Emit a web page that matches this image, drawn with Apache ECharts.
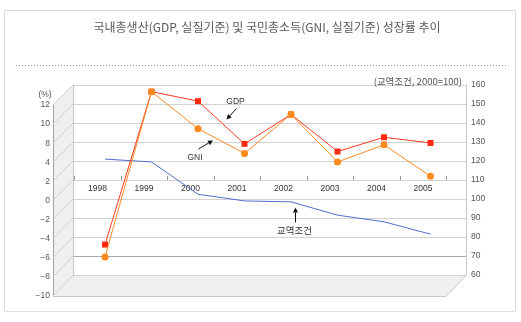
<!DOCTYPE html>
<html>
<head>
<meta charset="utf-8">
<script src="https://cdn.jsdelivr.net/npm/echarts@6/dist/echarts.min.js"></script>
<style>
html,body{margin:0;padding:0;background:#fff;}
#c{width:521px;height:322px;}
</style>
</head>
<body>
<div id="c"></div>
<script>
// ---- data ----
const years = ['1998','1999','2000','2001','2002','2003','2004','2005'];
const gdpGrowth = [-6.8, 9.3, 8.3, 3.8, 6.9, 3.0, 4.5, 3.9];
const gniGrowth = [-8.1, 9.3, 5.4, 2.8, 6.9, 1.9, 3.7, 0.4];
const termsOfTrade = [121, 119.5, 102.5, 99, 98.5, 91.5, 88, 81.5];
const leftTickLabels = ['−10','−8','−6','−4','−2','0','2','4','8','10','12'];
const rightMin = 60, rightMax = 160, rightStep = 10;
const titleText = '국내총생산(GDP, 실질기준) 및 국민총소득(GNI, 실질기준) 성장률 추이';
const subTitleText = '(교역조건, 2000=100)';

// ---- layout (pseudo-3D box) ----
const back = {x0: 73, y0: 85, x1: 466, y1: 275};
const depth = {dx: -20, dy: 21};
const numFont = '"Liberation Sans", Arial, sans-serif';
const krFont = '"Noto Sans CJK KR", sans-serif';

const chart = echarts.init(document.getElementById('c'), null, {renderer: 'canvas'});

const graphics = [];
// outer frame
graphics.push({type: 'rect', shape: {x: 4.5, y: 10.5, width: 511, height: 301}, style: {fill: 'none', stroke: '#dcdcdc', lineWidth: 1}, z: 0});
// dotted separator
graphics.push({type: 'line', shape: {x1: 16, y1: 65.5, x2: 506, y2: 65.5}, style: {stroke: '#9a9a9a', lineWidth: 1, lineDash: [1, 2]}, z: 0});
// title
graphics.push({type: 'text', x: 267, y: 27, style: {text: titleText, fill: '#5a5a5a', font: '12px ' + krFont, textAlign: 'center', textVerticalAlign: 'middle'}, z: 10});
graphics.push({type: 'text', x: 462, y: 81, style: {text: subTitleText, fill: '#555', font: '9.5px ' + krFont, textAlign: 'right', textVerticalAlign: 'middle'}, z: 10});
graphics.push({type: 'text', x: 45, y: 95, style: {text: '(%)', fill: '#555', font: '8.5px ' + numFont, textAlign: 'center', textVerticalAlign: 'middle'}, z: 10});

// left wall
const fx = back.x0 + depth.dx;
graphics.push({type: 'polygon', shape: {points: [[fx, back.y0 + depth.dy - 1], [back.x0, back.y0], [back.x0, back.y1], [fx, back.y1 + depth.dy]]}, style: {fill: '#efefef', stroke: 'none'}, z: 0});
const nLines = leftTickLabels.length;
for (let i = 0; i < nLines; i++) {
  const by = back.y0 + (back.y1 - back.y0) * i / (nLines - 1);
  const fy = (back.y0 + depth.dy - 1) + ((back.y1 + depth.dy) - (back.y0 + depth.dy - 1)) * i / (nLines - 1);
  graphics.push({type: 'line', shape: {x1: fx, y1: fy, x2: back.x0, y2: by}, style: {stroke: '#d0d0d0', lineWidth: 1}, z: 1});
}
// floor
graphics.push({type: 'polygon', shape: {points: [[fx, back.y1 + depth.dy], [back.x0, back.y1], [back.x1, back.y1], [back.x1 + depth.dx, back.y1 + depth.dy]]}, style: {fill: '#efefef', stroke: 'none'}, z: 0});
graphics.push({type: 'polyline', shape: {points: [[fx, back.y1 + depth.dy + 0.5], [back.x1 + depth.dx, back.y1 + depth.dy + 0.5], [back.x1 + 0.5, back.y1]]}, style: {stroke: '#c8c8c8', lineWidth: 1, fill: 'none'}, z: 1});

// annotations
function arrow(x0, y0, x1, y1) {
  const ang = Math.atan2(y1 - y0, x1 - x0);
  const L = 5, W = 2.5;
  const bx = x1 - L * Math.cos(ang), by = y1 - L * Math.sin(ang);
  const px = -Math.sin(ang) * W, py = Math.cos(ang) * W;
  graphics.push({type: 'line', shape: {x1: x0, y1: y0, x2: bx, y2: by}, style: {stroke: '#111', lineWidth: 1}, z: 20});
  graphics.push({type: 'polygon', shape: {points: [[x1, y1], [bx + px, by + py], [bx - px, by - py]]}, style: {fill: '#111'}, z: 20});
}
graphics.push({type: 'text', x: 235.5, y: 101.5, style: {text: 'GDP', fill: '#333', font: '8.5px ' + numFont, textAlign: 'center', textVerticalAlign: 'middle'}, z: 20});
arrow(236.5, 108.5, 226.5, 119.5);
graphics.push({type: 'text', x: 195, y: 157.5, style: {text: 'GNI', fill: '#333', font: '8.5px ' + numFont, textAlign: 'center', textVerticalAlign: 'middle'}, z: 20});
arrow(198.5, 149, 213, 140.5);
graphics.push({type: 'text', x: 294.5, y: 230, style: {text: '교역조건', fill: '#333', font: '9.5px ' + krFont, textAlign: 'center', textVerticalAlign: 'middle'}, z: 20});
arrow(295.5, 222.5, 295.5, 207.5);

const splitColors = [];
for (let v = rightMin; v <= rightMax; v += rightStep) splitColors.push(v === 70 ? '#a8a8a8' : '#d2d2d2');

// x-axis (category labels) sits on the zero line of the percentage scale
const zeroY = back.y0 + (back.y1 - back.y0) / 2;

const option = {
  backgroundColor: '#fff',
  animation: false,
  grid: [
    {left: back.x0, top: back.y0, width: back.x1 - back.x0, height: back.y1 - back.y0},   // back wall
    {left: 81.75, top: back.y0, width: 372, height: back.y1 - back.y0},                   // data plane
    {left: 74.25, top: back.y0, width: 372, height: zeroY - back.y0},                     // x labels on the zero line
    {left: fx, top: back.y0 + depth.dy - 1, width: back.x1 - back.x0, height: back.y1 - back.y0 + 1} // front axis
  ],
  xAxis: [
    {gridIndex: 0, type: 'category', data: years, show: false},
    {gridIndex: 1, type: 'category', data: years, show: false},
    {gridIndex: 2, type: 'category', data: years, position: 'bottom',
      axisLine: {show: false, onZero: false},
      axisTick: {show: true, inside: true, length: 4, lineStyle: {color: '#999'}},
      axisLabel: {margin: 4, fontSize: 8.5, color: '#333', fontFamily: numFont},
      splitLine: {show: false}},
    {gridIndex: 3, type: 'category', data: years, show: false}
  ],
  yAxis: [
    {gridIndex: 0, type: 'value', position: 'right', min: rightMin, max: rightMax, interval: rightStep,
      axisLine: {show: true, lineStyle: {color: '#c8c8c8'}},
      axisTick: {show: false},
      axisLabel: {margin: 5, fontSize: 8.5, color: '#555', fontFamily: numFont},
      splitLine: {show: true, lineStyle: {color: splitColors, width: 1}}},
    {gridIndex: 0, type: 'value', position: 'left', min: -10, max: 10, interval: 2,
      axisLine: {show: true, lineStyle: {color: '#c8c8c8'}}, axisTick: {show: false}, axisLabel: {show: false}, splitLine: {show: false}},
    {gridIndex: 1, type: 'value', position: 'left', min: -10, max: 10, interval: 2, show: false},
    {gridIndex: 1, type: 'value', position: 'right', min: rightMin, max: rightMax, interval: rightStep, show: false},
    {gridIndex: 2, type: 'value', min: 0, max: 10, interval: 2, show: false},
    {gridIndex: 3, type: 'category', data: leftTickLabels, boundaryGap: false,
      axisLine: {show: true, lineStyle: {color: '#a0a0a0'}},
      axisTick: {show: false},
      axisLabel: {margin: 3, fontSize: 8.5, color: '#555', fontFamily: numFont},
      splitLine: {show: false}}
  ],
  series: [
    {name: '교역조건', type: 'line', xAxisIndex: 1, yAxisIndex: 3, data: termsOfTrade,
      showSymbol: false, lineStyle: {color: '#4f6fd0', width: 1}, z: 3},
    {name: 'GDP', type: 'line', xAxisIndex: 1, yAxisIndex: 2, data: gdpGrowth,
      symbol: 'rect', symbolSize: 6, itemStyle: {color: '#ff2a10'}, lineStyle: {color: '#ff3a22', width: 1}, z: 4},
    {name: 'GNI', type: 'line', xAxisIndex: 1, yAxisIndex: 2, data: gniGrowth,
      symbol: 'circle', symbolSize: 7, itemStyle: {color: '#ff8a1c'}, lineStyle: {color: '#ff8a24', width: 1}, z: 5}
  ],
  graphic: graphics
};
chart.setOption(option);
</script>
</body>
</html>
